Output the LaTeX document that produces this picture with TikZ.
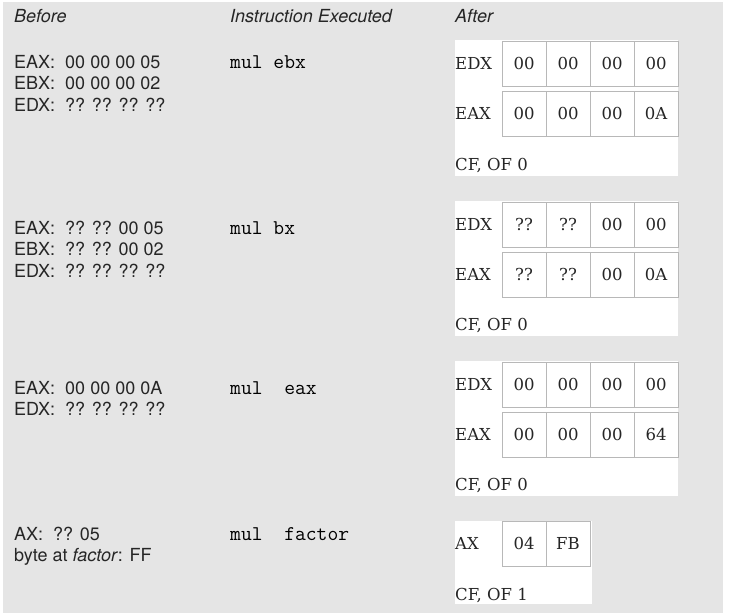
\documentclass[tikz,border=0pt]{standalone}
\usepackage{fontspec}
\newfontfamily\heros{TeX Gyre Heros}
\newfontfamily\djserif{DejaVu Serif}
\usetikzlibrary{positioning}
\definecolor{panelbg}{gray}{0.9}
\definecolor{cellgray}{gray}{0.72}
\colorlet{inktext}{black!85}
\tikzset{
  hdr/.style     = { anchor=base west, inner sep=0pt, text=inktext,
    font=\heros\itshape\fontsize{18}{21}\selectfont },
  befline/.style = { anchor=base west, inner sep=0pt, text=inktext,
    font=\heros\fontsize{18}{21}\selectfont },
  instr/.style   = { anchor=base west, inner sep=0pt, text=black,
    font=\ttfamily\fontsize{21}{24}\selectfont },
  regcell/.style = { draw=cellgray, line width=0.8pt, fill=white, text=inktext,
    minimum width=44pt, minimum height=45pt, inner sep=0pt, outer sep=0pt,
    font=\djserif\fontsize{16.5}{20}\selectfont },
  reglbl/.style  = { anchor=west, inner sep=0pt, text=inktext,
    font=\djserif\fontsize{16.5}{20}\selectfont },
  flagln/.style  = { anchor=base west, inner sep=0pt, text=inktext,
    font=\djserif\fontsize{16.5}{20}\selectfont }
}

\begin{document}
\begin{tikzpicture}[x=1pt,y=-1pt]
  \useasboundingbox (0,0) rectangle (733,613);
  \fill[panelbg] (3,2) rectangle (723,613);
  % column heads
  \node[hdr] (hbef) at (14,23) {Before};
  \node[hdr] (hins) at (230,23) {Instruction Executed};
  \node[hdr] (haft) at (455,23) {After};

  % mul ebx
  \node[befline] (b1eax) at (14,68) {EAX:\ \ 00 00 00 05};
  \node[befline] (b1ebx) at ([yshift=-21.5pt]b1eax.base west) {EBX:\ \ 00 00 00 02};
  \node[befline] (b1edx) at ([yshift=-21.5pt]b1ebx.base west) {EDX:\ \ ?? ?? ?? ??};
  \node[instr] (ins1) at (230,68) {mul ebx};
  \fill[white] (455,40) rectangle (678,176);
  \node[regcell, anchor=north west] (a1dx1) at (502,41) {00};
  \node[regcell, right=0pt of a1dx1] (a1dx2) {00};
  \node[regcell, right=0pt of a1dx2] (a1dx3) {00};
  \node[regcell, right=0pt of a1dx3] (a1dx4) {00};
  \node[regcell, below=5pt of a1dx1] (a1ax1) {00};
  \node[regcell, right=0pt of a1ax1] (a1ax2) {00};
  \node[regcell, right=0pt of a1ax2] (a1ax3) {00};
  \node[regcell, right=0pt of a1ax3] (a1ax4) {0A};
  \node[reglbl] (a1dxl) at (455,0 |- a1dx1) {EDX};
  \node[reglbl] (a1axl) at (455,0 |- a1ax1) {EAX};
  \node[flagln] (a1flg) at (455,170) {CF, OF 0};

  % mul bx
  \node[befline] (b2eax) at (14,234) {EAX:\ \ ?? ?? 00 05};
  \node[befline] (b2ebx) at ([yshift=-21.5pt]b2eax.base west) {EBX:\ \ ?? ?? 00 02};
  \node[befline] (b2edx) at ([yshift=-21.5pt]b2ebx.base west) {EDX:\ \ ?? ?? ?? ??};
  \node[instr] (ins2) at (230,234) {mul bx};
  \fill[white] (455,201) rectangle (678,336);
  \node[regcell, anchor=north west] (a2dx1) at (502,202) {??};
  \node[regcell, right=0pt of a2dx1] (a2dx2) {??};
  \node[regcell, right=0pt of a2dx2] (a2dx3) {00};
  \node[regcell, right=0pt of a2dx3] (a2dx4) {00};
  \node[regcell, below=5pt of a2dx1] (a2ax1) {??};
  \node[regcell, right=0pt of a2ax1] (a2ax2) {??};
  \node[regcell, right=0pt of a2ax2] (a2ax3) {00};
  \node[regcell, right=0pt of a2ax3] (a2ax4) {0A};
  \node[reglbl] (a2dxl) at (455,0 |- a2dx1) {EDX};
  \node[reglbl] (a2axl) at (455,0 |- a2ax1) {EAX};
  \node[flagln] (a2flg) at (455,330) {CF, OF 0};

  % mul eax
  \node[befline] (b3eax) at (14,394) {EAX:\ \ 00 00 00 0A};
  \node[befline] (b3edx) at ([yshift=-21.5pt]b3eax.base west) {EDX:\ \ ?? ?? ?? ??};
  \node[instr] (ins3) at (230,394) {mul~~eax};
  \fill[white] (455,361) rectangle (678,496);
  \node[regcell, anchor=north west] (a3dx1) at (502,362) {00};
  \node[regcell, right=0pt of a3dx1] (a3dx2) {00};
  \node[regcell, right=0pt of a3dx2] (a3dx3) {00};
  \node[regcell, right=0pt of a3dx3] (a3dx4) {00};
  \node[regcell, below=5pt of a3dx1] (a3ax1) {00};
  \node[regcell, right=0pt of a3ax1] (a3ax2) {00};
  \node[regcell, right=0pt of a3ax2] (a3ax3) {00};
  \node[regcell, right=0pt of a3ax3] (a3ax4) {64};
  \node[reglbl] (a3dxl) at (455,0 |- a3dx1) {EDX};
  \node[reglbl] (a3axl) at (455,0 |- a3ax1) {EAX};
  \node[flagln] (a3flg) at (455,490) {CF, OF 0};

  % mul factor
  \node[befline] (b4ax) at (14,540) {AX:\ \ ?? 05};
  \node[befline] (b4fac) at ([yshift=-21.5pt]b4ax.base west) {byte at \textit{factor}: FF};
  \node[instr] (ins4) at (230,540) {mul~~factor};
  \fill[white] (455,521) rectangle (592,604);
  \node[regcell, anchor=north west] (a4ax1) at (502,521) {04};
  \node[regcell, right=0pt of a4ax1] (a4ax2) {FB};
  \node[reglbl] (a4axl) at (455,0 |- a4ax1) {AX};
  \node[flagln] (a4flg) at (455,600) {CF, OF 1};
\end{tikzpicture}
\end{document}
